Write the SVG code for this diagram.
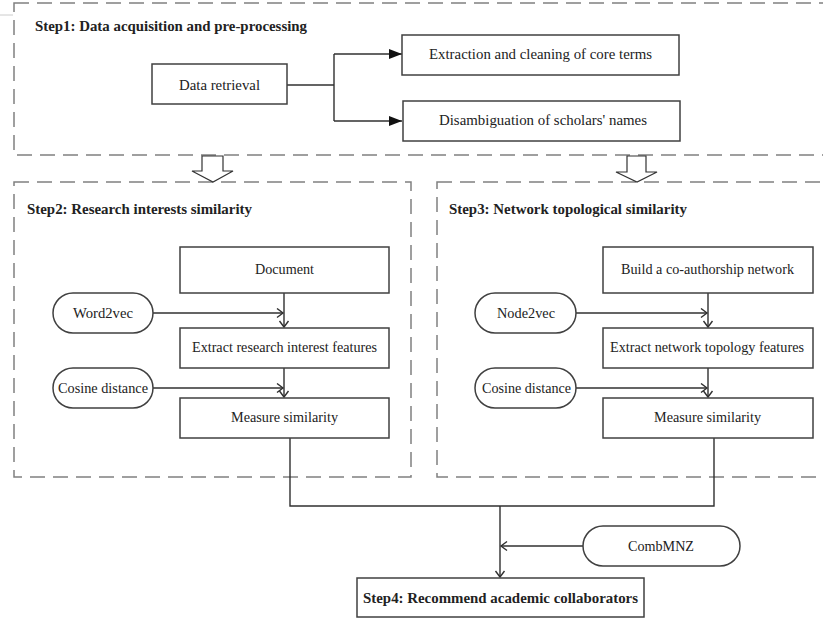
<svg xmlns="http://www.w3.org/2000/svg" width="823" height="618" viewBox="0 0 823 618">
<style>
.bg{fill:#fff}
.dash{fill:none;stroke:#808080;stroke-width:1.5;stroke-dasharray:15 8}
.box{fill:#fff;stroke:#404040;stroke-width:1.5}
.ln{fill:none;stroke:#303030;stroke-width:1.4}
.t{font-family:"Liberation Serif","Times New Roman",serif;font-size:14px;fill:#222;text-anchor:middle}
.b{font-family:"Liberation Serif","Times New Roman",serif;font-size:15px;font-weight:bold;fill:#222}
.hollow{fill:#fff;stroke:#333;stroke-width:1.2}
</style>
<defs>
<marker id="fill" markerUnits="userSpaceOnUse" markerWidth="14" markerHeight="12" refX="13" refY="5" orient="auto">
<path d="M0,0 L13,5 L0,10 Z" fill="#111"/>
</marker>
<marker id="open" markerUnits="userSpaceOnUse" markerWidth="10" markerHeight="12" refX="7" refY="5.5" orient="auto">
<path d="M1,1 L7,5.5 L1,10" fill="none" stroke="#303030" stroke-width="1.4"/>
</marker>
</defs>
<rect class="bg" x="0" y="0" width="823" height="618"/>
<line x1="0" y1="15" x2="13" y2="15" stroke="#ccc" stroke-width="1"/>

<g id="step1">
<rect class="dash" x="14" y="3" width="830" height="152"/>
<text class="b" x="35" y="31" textLength="272" lengthAdjust="spacingAndGlyphs">Step1: Data acquisition and pre-processing</text>
</g>
<g id="step2">
<rect class="dash" x="14" y="182" width="397" height="295"/>
<text class="b" x="27" y="214" textLength="225" lengthAdjust="spacingAndGlyphs">Step2: Research interests similarity</text>
</g>
<g id="step3">
<rect class="dash" x="437" y="182" width="410" height="295"/>
<text class="b" x="449" y="214" textLength="238" lengthAdjust="spacingAndGlyphs">Step3: Network topological similarity</text>
</g>

<g id="flow-arrows">
<polygon class="hollow" points="202,156 223,156 223,171 233,171 213,182 192,171 202,171"/>
<polygon class="hollow" points="627,156 646,156 646,172 657,172 637,182 616,172 627,172"/>
</g>

<g id="connectors">
<polyline class="ln" points="287,85 334,85"/>
<polyline class="ln" points="334,54 334,121"/>
<line class="ln" x1="334" y1="54" x2="402" y2="54" marker-end="url(#fill)"/>
<line class="ln" x1="334" y1="121" x2="402" y2="121" marker-end="url(#fill)"/>

<line class="ln" x1="153" y1="313" x2="283" y2="313" marker-end="url(#open)"/>
<line class="ln" x1="284" y1="293" x2="284" y2="327" marker-end="url(#open)"/>
<line class="ln" x1="153" y1="388" x2="283" y2="388" marker-end="url(#open)"/>
<line class="ln" x1="284" y1="368" x2="284" y2="397" marker-end="url(#open)"/>

<line class="ln" x1="576" y1="313" x2="707" y2="313" marker-end="url(#open)"/>
<line class="ln" x1="708" y1="293" x2="708" y2="327" marker-end="url(#open)"/>
<line class="ln" x1="576" y1="388" x2="707" y2="388" marker-end="url(#open)"/>
<line class="ln" x1="708" y1="368" x2="708" y2="397" marker-end="url(#open)"/>

<polyline class="ln" points="290,438 290,506 714,506 714,438"/>
<line class="ln" x1="500" y1="506" x2="500" y2="577" marker-end="url(#open)"/>
<line class="ln" x1="583" y1="546" x2="501" y2="546" marker-end="url(#open)"/>
</g>

<g id="data-retrieval">
<rect class="box" x="152" y="64" width="135" height="40"/>
<text class="t" x="219.5" y="90" textLength="81" lengthAdjust="spacingAndGlyphs" style="font-size:15px">Data retrieval</text>
</g>
<g id="extraction">
<rect class="box" x="402" y="35" width="277" height="40"/>
<text class="t" x="540.5" y="59" textLength="223" lengthAdjust="spacingAndGlyphs" style="font-size:15px">Extraction and cleaning of core terms</text>
</g>
<g id="disambiguation">
<rect class="box" x="403" y="101" width="277" height="40"/>
<text class="t" x="543" y="125" textLength="208" lengthAdjust="spacingAndGlyphs" style="font-size:15px">Disambiguation of scholars' names</text>
</g>

<g id="document">
<rect class="box" x="180" y="247" width="209" height="46"/>
<text class="t" x="284.5" y="274" textLength="59" lengthAdjust="spacingAndGlyphs">Document</text>
</g>
<g id="word2vec">
<rect class="box" x="53" y="293" width="100" height="40" rx="20"/>
<text class="t" x="103" y="318" textLength="60" lengthAdjust="spacingAndGlyphs">Word2vec</text>
</g>
<g id="extract-research">
<rect class="box" x="180" y="328" width="209" height="40"/>
<text class="t" x="284.5" y="352" textLength="185" lengthAdjust="spacingAndGlyphs">Extract research interest features</text>
</g>
<g id="cosine1">
<rect class="box" x="53" y="368" width="100" height="40" rx="20"/>
<text class="t" x="103" y="393" textLength="90" lengthAdjust="spacingAndGlyphs">Cosine distance</text>
</g>
<g id="measure1">
<rect class="box" x="180" y="398" width="209" height="40"/>
<text class="t" x="284.5" y="422" textLength="107" lengthAdjust="spacingAndGlyphs">Measure similarity</text>
</g>

<g id="build-network">
<rect class="box" x="603" y="247" width="210" height="46"/>
<text class="t" x="707.5" y="274" textLength="173" lengthAdjust="spacingAndGlyphs">Build a co-authorship network</text>
</g>
<g id="node2vec">
<rect class="box" x="475" y="293" width="101" height="40" rx="20"/>
<text class="t" x="526" y="318" textLength="58" lengthAdjust="spacingAndGlyphs">Node2vec</text>
</g>
<g id="extract-network">
<rect class="box" x="603" y="328" width="210" height="40"/>
<text class="t" x="707" y="352" textLength="194" lengthAdjust="spacingAndGlyphs">Extract network topology features</text>
</g>
<g id="cosine2">
<rect class="box" x="475" y="368" width="101" height="40" rx="20"/>
<text class="t" x="526.5" y="393" textLength="89" lengthAdjust="spacingAndGlyphs">Cosine distance</text>
</g>
<g id="measure2">
<rect class="box" x="603" y="398" width="210" height="40"/>
<text class="t" x="707.5" y="422" textLength="107" lengthAdjust="spacingAndGlyphs">Measure similarity</text>
</g>

<g id="combmnz">
<rect class="box" x="583" y="526" width="157" height="40" rx="20"/>
<text class="t" x="661" y="551" textLength="66" lengthAdjust="spacingAndGlyphs">CombMNZ</text>
</g>
<g id="step4">
<rect class="box" x="357" y="578" width="287" height="39"/>
<text class="b" x="363" y="603" textLength="275" lengthAdjust="spacingAndGlyphs">Step4: Recommend academic collaborators</text>
</g>
</svg>
